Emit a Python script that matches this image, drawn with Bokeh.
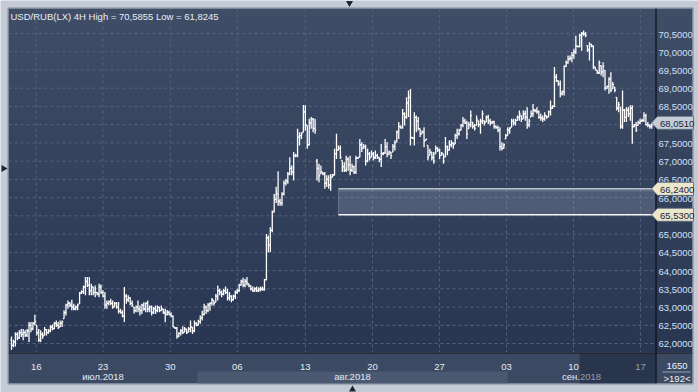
from math import pi
from bokeh.plotting import figure
from bokeh.models import Range1d
from bokeh.core.properties import value
from bokeh.embed import file_html
from bokeh.resources import INLINE

# ---------------- data (USD/RUB, 4H bars, mid-July .. mid-Sept 2018) ----------------
HIGH = [
    62.19, 62.10, 62.31, 62.31, 62.36, 62.40, 62.40, 62.36, 62.40, 62.59,
    62.59, 62.59, 62.79, 62.50, 62.40, 62.36, 62.31, 62.45, 62.40, 62.40,
    62.50, 62.52, 62.59, 62.63, 62.59, 62.63, 62.63, 62.91, 63.09, 63.18,
    63.14, 63.20, 63.09, 63.04, 63.09, 63.41, 63.46, 63.59, 63.82, 63.82,
    63.82, 63.64, 63.55, 63.59, 63.41, 63.64, 63.62, 63.46, 63.41, 63.18,
    63.18, 63.23, 63.18, 63.14, 63.14, 63.14, 62.95, 62.91, 63.55, 63.36,
    63.32, 63.27, 63.18, 63.00,
    63.04, 63.18, 63.04, 63.09, 63.13, 63.13, 63.18, 63.04, 63.04, 63.00,
    63.04, 63.04, 63.01, 63.04, 62.95, 62.95, 62.92, 62.90, 62.86, 62.77,
    62.45, 62.45, 62.31, 62.40, 62.47, 62.45, 62.40, 62.45, 62.63, 62.45,
    62.63, 62.58, 62.65, 62.77, 62.90, 63.09, 63.04, 63.11, 63.13, 63.25,
    63.18, 63.36, 63.59, 63.50, 63.45, 63.50, 63.56, 63.50, 63.41, 63.32,
    63.34, 63.45, 63.50, 63.64, 63.75, 63.80, 63.77, 63.82, 63.64, 63.59,
    63.56, 63.54, 63.56, 63.54, 63.56, 63.56, 63.77, 65.00, 64.96, 65.19,
    65.65, 66.10, 66.30,
    66.72, 65.97, 66.15, 66.47, 66.51, 66.70, 67.11, 66.88, 67.25, 67.20,
    67.89, 67.79, 67.79, 68.54, 68.53, 67.98, 68.16, 68.21, 68.18, 68.16,
    67.06, 66.93, 66.88, 66.70, 66.70, 66.61, 66.61, 66.65, 66.65, 67.34,
    67.75, 67.43, 67.43, 67.02, 66.97, 67.15, 67.11, 67.15, 66.93, 66.88,
    67.15, 67.11, 67.61, 67.52, 67.47, 67.45, 67.34, 67.25, 67.29, 67.25,
    67.29, 67.20, 67.11,
    67.47, 67.25, 67.61, 67.52, 67.29, 67.25, 67.47, 67.57, 67.84, 68.07,
    67.98, 68.43, 68.34, 68.75, 68.94, 68.98, 67.66, 68.34, 68.25, 68.21,
    67.89, 67.84, 67.93, 67.61, 67.43, 67.34, 67.25, 67.25, 67.43, 67.38,
    67.34, 67.25, 67.20, 67.66, 67.43, 67.57, 67.57, 67.52, 67.75, 67.89,
    67.89, 68.02, 68.21, 68.16, 68.11, 68.07, 68.39, 68.07, 68.02, 68.25,
    68.11, 68.16, 68.39, 68.11, 68.25, 68.27, 68.16, 68.11, 68.11, 67.98,
    67.98,
    67.93, 67.52, 67.49, 67.75, 67.93, 67.93, 68.16, 68.16, 68.16, 68.25,
    68.39, 68.25, 68.39, 68.39, 68.48, 68.16, 68.39, 68.57, 68.43, 68.48,
    68.39, 68.30, 68.25, 68.34, 68.25, 68.39, 68.66, 68.53, 69.58, 69.39,
    69.21, 69.21, 68.94, 69.62, 69.76, 69.90, 69.90, 69.99, 70.08, 70.44,
    70.17, 70.49, 70.54, 70.5855, 70.54, 70.17, 70.26, 70.22, 70.17, 69.58,
    69.49,
    69.76, 69.62, 69.71, 69.49, 69.07, 69.30, 69.44, 69.17, 69.03, 68.75,
    68.62, 68.48, 68.94, 68.43, 68.48, 68.48, 68.53, 68.53, 68.02, 68.07,
    68.11, 68.16, 68.16, 68.34, 68.30, 68.07, 68.02, 68.04, 68.08,
]
LOW = [
    61.8245, 61.90, 61.92, 62.09, 62.13, 62.18, 62.09, 62.18, 62.18, 62.04,
    62.31, 62.36, 62.50, 62.22, 62.04, 62.04, 62.13, 62.22, 62.22, 62.27,
    62.31, 62.36, 62.40, 62.45, 62.40, 62.45, 62.45, 62.68, 62.77, 62.95,
    63.00, 62.91, 62.91, 62.91, 62.91, 63.09, 63.36, 63.36, 63.32, 63.55,
    63.32, 63.32, 63.32, 63.27, 63.32, 63.27, 63.36, 63.27, 62.95, 62.95,
    63.05, 63.05, 62.95, 63.00, 62.95, 62.82, 62.82, 62.72, 62.59, 63.09,
    63.14, 63.05, 63.00, 62.82,
    62.86, 62.86, 62.77, 62.81, 62.90, 62.86, 62.86, 62.86, 62.77, 62.81,
    62.81, 62.86, 62.86, 62.90, 62.81, 62.58, 62.77, 62.77, 62.72, 62.45,
    62.40, 62.13, 62.17, 62.22, 62.26, 62.31, 62.26, 62.31, 62.31, 62.26,
    62.31, 62.47, 62.49, 62.54, 62.63, 62.77, 62.81, 62.86, 62.90, 63.04,
    63.04, 63.13, 63.18, 63.32, 63.27, 63.32, 63.36, 63.18, 63.18, 63.13,
    63.18, 63.22, 63.36, 63.41, 63.59, 63.54, 63.54, 63.59, 63.54, 63.45,
    63.41, 63.41, 63.41, 63.41, 63.43, 63.45, 63.45, 63.73, 64.50, 64.50,
    65.05, 65.60, 65.85,
    65.78, 65.78, 65.78, 66.06, 66.33, 66.38, 66.61, 66.61, 66.47, 67.11,
    67.11, 67.43, 67.61, 67.79, 67.84, 67.34, 67.43, 67.89, 67.79, 67.75,
    66.47, 66.42, 66.65, 66.61, 66.24, 66.29, 66.24, 66.19, 66.56, 66.61,
    67.06, 67.29, 67.06, 66.70, 66.70, 66.70, 66.74, 66.61, 66.70, 66.65,
    66.65, 67.06, 67.11, 67.25, 67.34, 66.88, 66.97, 67.02, 67.11, 67.02,
    67.06, 67.06, 66.97,
    66.84, 67.16, 67.20, 67.11, 67.16, 67.06, 67.25, 67.29, 67.52, 67.61,
    67.89, 67.89, 67.98, 68.16, 68.21, 67.43, 67.61, 67.43, 67.79, 67.84,
    67.66, 67.75, 67.38, 67.57, 67.02, 67.16, 67.02, 66.93, 67.20, 67.25,
    67.06, 67.16, 66.93, 67.11, 67.16, 67.29, 67.38, 67.34, 67.47, 67.61,
    67.70, 67.84, 67.93, 68.02, 67.61, 67.89, 67.93, 67.89, 67.84, 67.98,
    67.93, 67.75, 68.02, 67.98, 68.07, 68.02, 67.98, 68.02, 67.89, 67.89,
    67.79,
    67.29, 67.29, 67.34, 67.61, 67.70, 67.75, 67.93, 67.98, 67.98, 68.11,
    68.11, 68.07, 68.16, 68.11, 67.89, 67.93, 68.21, 68.21, 68.34, 68.30,
    68.16, 68.11, 68.07, 68.11, 68.16, 68.21, 68.25, 68.43, 68.48, 69.17,
    69.07, 68.75, 68.80, 68.80, 69.58, 69.67, 69.76, 69.71, 69.81, 69.94,
    70.12, 70.12, 70.03, 70.44, 70.40, 69.99, 69.76, 70.12, 69.53, 69.49,
    69.39,
    69.39, 69.35, 69.30, 68.94, 68.98, 68.85, 68.89, 68.98, 68.89, 68.39,
    68.34, 67.89, 67.89, 68.07, 68.07, 68.21, 68.11, 67.48, 67.93, 67.80,
    67.98, 68.02, 68.07, 68.07, 67.98, 67.93, 67.89, 67.89, 67.98,
]
OPEN = [
    62.10, 61.95, 62.05, 62.25, 62.15, 62.30, 62.25, 62.30, 62.22, 62.35,
    62.50, 62.40, 62.55, 62.50, 62.30, 62.10, 62.25, 62.22, 62.38, 62.30,
    62.35, 62.45, 62.40, 62.55, 62.50, 62.45, 62.55, 62.68, 62.85, 63.05,
    63.10, 63.05, 63.00, 62.95, 63.00, 63.09, 63.38, 63.42, 63.55, 63.70,
    63.60, 63.45, 63.55, 63.40, 63.40, 63.35, 63.55, 63.40, 63.30, 63.05,
    63.10, 63.15, 63.10, 63.00, 63.10, 63.00, 62.88, 62.85, 62.75, 63.30,
    63.20, 63.25, 63.10, 63.00,
    62.90, 63.00, 62.95, 62.90, 63.05, 62.95, 63.10, 62.95, 63.00, 62.85,
    62.95, 62.90, 63.00, 62.90, 62.95, 62.85, 62.80, 62.85, 62.80, 62.75,
    62.45, 62.42, 62.20, 62.28, 62.35, 62.31, 62.40, 62.31, 62.40, 62.45,
    62.35, 62.55, 62.50, 62.60, 62.70, 62.80, 63.00, 62.90, 63.05, 63.10,
    63.18, 63.13, 63.30, 63.45, 63.40, 63.35, 63.45, 63.40, 63.25, 63.30,
    63.20, 63.30, 63.40, 63.45, 63.60, 63.70, 63.60, 63.70, 63.64, 63.58,
    63.50, 63.45, 63.50, 63.45, 63.48, 63.50, 63.48, 63.75, 64.90, 64.70,
    65.10, 65.60, 65.95,
    66.10, 65.90, 65.85, 66.10, 66.40, 66.45, 66.65, 66.80, 66.70, 67.15,
    67.15, 67.65, 67.70, 67.79, 68.35, 67.98, 67.45, 68.05, 68.15, 67.90,
    67.00, 66.80, 66.65, 66.70, 66.65, 66.40, 66.50, 66.35, 66.56, 66.62,
    67.20, 67.30, 67.35, 67.02, 66.85, 66.75, 67.05, 66.90, 66.75, 66.85,
    66.70, 67.08, 67.11, 67.45, 67.35, 67.40, 67.00, 67.20, 67.11, 67.20,
    67.10, 67.15, 67.10,
    67.05, 67.20, 67.22, 67.40, 67.20, 67.25, 67.25, 67.40, 67.52, 67.80,
    67.95, 67.92, 68.30, 68.20, 68.60, 68.75, 67.65, 67.63, 68.20, 68.10,
    67.89, 67.75, 67.80, 67.57, 67.43, 67.16, 67.25, 67.10, 67.20, 67.35,
    67.30, 67.16, 67.20, 67.11, 67.40, 67.30, 67.45, 67.50, 67.47, 67.70,
    67.75, 67.85, 67.98, 68.10, 68.05, 67.89, 68.00, 68.07, 67.95, 67.98,
    68.11, 68.00, 68.10, 68.11, 68.07, 68.20, 68.10, 68.05, 68.08, 67.95,
    67.92,
    67.85, 67.40, 67.35, 67.61, 67.70, 67.85, 67.93, 68.10, 68.05, 68.12,
    68.20, 68.25, 68.16, 68.30, 68.20, 68.00, 68.21, 68.30, 68.40, 68.38,
    68.35, 68.20, 68.18, 68.15, 68.25, 68.21, 68.35, 68.45, 68.50, 69.30,
    69.20, 69.12, 68.85, 68.90, 69.60, 69.70, 69.80, 69.82, 69.90, 70.00,
    70.15, 70.14, 70.45, 70.50, 70.48, 70.17, 70.05, 70.20, 70.15, 69.58,
    69.49,
    69.42, 69.62, 69.45, 69.49, 69.00, 69.05, 69.25, 68.98, 69.03, 68.75,
    68.45, 68.48, 67.95, 68.40, 68.20, 68.40, 68.30, 68.45, 67.95, 68.00,
    67.98, 68.05, 68.10, 68.12, 68.25, 68.00, 67.98, 67.95, 68.00,
]
CLOSE = [
    61.95, 62.05, 62.25, 62.15, 62.30, 62.25, 62.30, 62.22, 62.35, 62.50,
    62.40, 62.55, 62.60, 62.30, 62.10, 62.25, 62.20, 62.38, 62.30, 62.35,
    62.45, 62.40, 62.55, 62.50, 62.45, 62.55, 62.60, 62.85, 63.05, 63.10,
    63.05, 63.00, 62.95, 63.00, 63.05, 63.38, 63.42, 63.55, 63.70, 63.60,
    63.45, 63.55, 63.40, 63.50, 63.35, 63.55, 63.40, 63.30, 63.05, 63.10,
    63.15, 63.10, 63.00, 63.10, 63.00, 62.88, 62.85, 62.75, 63.30, 63.20,
    63.25, 63.10, 63.05, 62.90,
    63.00, 62.95, 62.90, 63.05, 62.95, 63.10, 62.95, 63.00, 62.85, 62.95,
    62.90, 63.00, 62.90, 62.95, 62.85, 62.80, 62.85, 62.80, 62.75, 62.45,
    62.42, 62.20, 62.28, 62.35, 62.30, 62.40, 62.30, 62.40, 62.45, 62.35,
    62.55, 62.50, 62.60, 62.70, 62.80, 63.00, 62.90, 63.05, 63.10, 63.20,
    63.10, 63.30, 63.45, 63.40, 63.35, 63.45, 63.40, 63.25, 63.30, 63.20,
    63.30, 63.40, 63.45, 63.60, 63.70, 63.60, 63.70, 63.65, 63.58, 63.50,
    63.45, 63.50, 63.45, 63.48, 63.50, 63.48, 63.75, 64.90, 64.70, 65.10,
    65.60, 65.95, 66.10,
    65.90, 65.85, 66.10, 66.40, 66.45, 66.65, 66.80, 66.70, 67.15, 67.15,
    67.65, 67.70, 67.75, 68.35, 68.00, 67.45, 68.05, 68.15, 67.90, 67.85,
    66.80, 66.60, 66.70, 66.65, 66.40, 66.50, 66.35, 66.55, 66.62, 67.20,
    67.30, 67.35, 67.10, 66.85, 66.75, 67.05, 66.90, 66.75, 66.85, 66.70,
    67.08, 67.10, 67.45, 67.35, 67.40, 67.00, 67.20, 67.10, 67.20, 67.10,
    67.15, 67.10, 67.05,
    67.20, 67.22, 67.40, 67.20, 67.25, 67.15, 67.40, 67.50, 67.80, 67.95,
    67.92, 68.30, 68.20, 68.60, 68.75, 67.65, 67.63, 68.20, 68.10, 67.90,
    67.75, 67.80, 67.55, 67.60, 67.10, 67.25, 67.10, 67.00, 67.35, 67.30,
    67.15, 67.22, 67.00, 67.40, 67.30, 67.45, 67.50, 67.45, 67.70, 67.75,
    67.85, 67.98, 68.10, 68.05, 67.75, 68.00, 68.25, 67.95, 67.90, 68.15,
    68.00, 68.10, 68.30, 68.05, 68.20, 68.10, 68.05, 68.08, 67.95, 67.92,
    67.85,
    67.40, 67.35, 67.45, 67.70, 67.85, 67.90, 68.10, 68.05, 68.12, 68.20,
    68.30, 68.15, 68.30, 68.20, 68.00, 68.10, 68.30, 68.40, 68.38, 68.35,
    68.20, 68.18, 68.15, 68.25, 68.20, 68.35, 68.45, 68.50, 69.30, 69.20,
    69.12, 68.85, 68.90, 69.60, 69.70, 69.80, 69.82, 69.90, 70.00, 70.15,
    70.14, 70.45, 70.50, 70.48, 70.45, 70.05, 70.20, 70.15, 69.60, 69.50,
    69.42,
    69.70, 69.45, 69.60, 69.00, 69.05, 69.25, 68.95, 69.10, 68.95, 68.45,
    68.55, 67.95, 68.40, 68.20, 68.40, 68.30, 68.45, 67.95, 68.00, 67.85,
    68.05, 68.10, 68.12, 68.25, 68.00, 67.98, 67.95, 68.00, 68.051,
]

SYMBOL = "USD/RUB(LX) 4H"
DAY_LABELS = ["16", "23", "30", "06", "13", "20", "27", "03", "10", "17"]
DAY_POS = [12.7, 47.0, 81.6, 116.0, 151.0, 185.5, 219.9, 254.4, 288.8, 323.2]   # bar index of each Monday
MONTH_LABELS = ["июл.2018", "авг.2018", "сен.2018"]
MONTH_BREAKS = [95.6, 254.9]          # bar index where Aug and Sep begin
PRICE_TICKS = [62.0 + 0.5 * k for k in range(18)]
BAND_START = 168                      # bar index where the marked zone begins
BAND_HIGH, BAND_LOW = 66.24, 65.53
SHADE_START = 292
CORNER_TOP, CORNER_BOTTOM = "1650", ">192<"

# ---------------- geometry (pixel anchors of the layout) ----------------
W, H = 698, 392
X0_PX, DX_PX = 11.0, 1.946
Y0_PRICE, Y0_PX, PX_PER = 70.5, 33.0, 36.47


def X(px):
    return (px - X0_PX) / DX_PX


def Y(py):
    return Y0_PRICE - (py - Y0_PX) / PX_PER


def PY(price):
    return Y0_PX + (Y0_PRICE - price) * PX_PER


def fmt(v):
    return f"{v:.4f}".replace(".", ",")


FONT = value("Liberation Sans")
FS = value("9.5px")

OUTER = "#c3cbd7"
p = figure(width=W, height=H, x_range=Range1d(X(0), X(W)), y_range=Range1d(Y(H), Y(0)),
           output_backend="svg", toolbar_location=None, x_axis_location=None,
           y_axis_location=None, min_border=0, outline_line_color=None,
           background_fill_color=OUTER, border_fill_color=OUTER)
p.grid.visible = False

# background gradient of the chart and price panel
N = 43
c_top, c_bot = (64, 77, 103), (41, 54, 82)
tops, bots, cols = [], [], []
for k in range(N):
    py0 = 8 + k * 344 / N
    py1 = py0 + 344 / N + 0.7
    t = (k + 0.5) / N
    r, g, b = (round(c_top[i] + (c_bot[i] - c_top[i]) * t) for i in range(3))
    tops.append(Y(py0)); bots.append(Y(min(py1, 352))); cols.append(f"#{r:02x}{g:02x}{b:02x}")
p.quad(left=X(8), right=X(692), top=tops, bottom=bots, fill_color=cols, line_color=None)

# bottom time panel
p.quad(left=X(8), right=X(692), top=Y(352), bottom=Y(383), fill_color="#3c4963", line_color=None)
p.quad(left=MONTH_BREAKS[0], right=MONTH_BREAKS[1], top=Y(371), bottom=Y(383),
       fill_color="#4b5871", line_color=None)

# dashed grid
GRID = "#56637d"
p.segment(x0=X(8), x1=X(655), y0=PRICE_TICKS, y1=PRICE_TICKS, line_color=GRID,
          line_dash="3 3", line_width=1)
p.segment(x0=DAY_POS, x1=DAY_POS, y0=Y(8), y1=Y(352), line_color=GRID,
          line_dash="3 3", line_width=1)

# marked zone (semi-transparent, grid shows through)
p.quad(left=BAND_START, right=X(655), top=BAND_HIGH, bottom=BAND_LOW,
       fill_color="#c4cce0", fill_alpha=0.2, line_color=None)
p.quad(left=BAND_START, right=X(655), top=BAND_HIGH, bottom=Y(PY(BAND_HIGH) + 3),
       fill_color="#d0d6e4", fill_alpha=0.12, line_color=None)
p.segment(x0=BAND_START, x1=BAND_START, y0=BAND_LOW, y1=BAND_HIGH, line_color="#66728c", line_width=1)
p.segment(x0=BAND_START, x1=X(655), y0=BAND_HIGH, y1=BAND_HIGH, line_color="#b9bfca", line_width=1.5)
p.segment(x0=BAND_START, x1=X(655), y0=BAND_LOW, y1=BAND_LOW, line_color="#f2f4f8", line_width=1.3)

# OHLC bars
xs = list(range(len(HIGH)))
BAR = "#ffffff"
p.segment(x0=xs, x1=xs, y0=LOW, y1=HIGH, line_color=BAR, line_width=1.3)
p.segment(x0=[x - 0.6 for x in xs], x1=xs, y0=OPEN, y1=OPEN, line_color=BAR, line_width=1.3)
p.segment(x0=xs, x1=[x + 0.6 for x in xs], y0=CLOSE, y1=CLOSE, line_color=BAR, line_width=1.3)

# separators and frame
p.segment(x0=[X(655.5), X(8)], x1=[X(655.5), X(692)], y0=[Y(8), Y(352.5)], y1=[Y(383), Y(352.5)],
          line_color="#0c0f16", line_width=1.2)
p.line(x=[X(7.5), X(692.5), X(692.5), X(7.5), X(7.5)],
       y=[Y(7.5), Y(7.5), Y(383.5), Y(383.5), Y(7.5)], line_color="#7d8796", line_width=1)

# title
title = f"{SYMBOL} High = {fmt(max(HIGH))} Low = {fmt(min(LOW))}"
p.text(x=[X(10)], y=[Y(15.5)], text=[title], text_font=FONT, text_font_size=FS,
       text_color="#e8edf5", text_align="left", text_baseline="middle")

# price scale labels
p.text(x=[X(658)] * len(PRICE_TICKS), y=PRICE_TICKS, text=[fmt(v) for v in PRICE_TICKS],
       text_font=FONT, text_font_size=FS, text_color="#cfe0fa", text_align="left",
       text_baseline="middle", y_offset=1)

# price tags (last close and zone bounds)
TAGS = [(CLOSE[-1], "#c5cdd9"), (BAND_HIGH, "#ebe7cc"), (BAND_LOW, "#ebe7cc")]
px_list, py_list = [], []
for price, _ in TAGS:
    c = PY(price)
    px_list.append([X(651), X(657), X(693), X(693), X(657)])
    py_list.append([Y(c), Y(c - 6.5), Y(c - 6.5), Y(c + 6.5), Y(c + 6.5)])
p.patches(xs=px_list, ys=py_list, fill_color=[c for _, c in TAGS], line_color="#5d6678", line_width=0.8)
p.text(x=[X(659.5)] * 3, y=[t[0] for t in TAGS], text=[fmt(t[0]) for t in TAGS], text_font=FONT,
       text_font_size=FS, text_color="#1a2235", text_align="left", text_baseline="middle", y_offset=1)

# time axis labels
p.text(x=DAY_POS, y=[Y(366)] * len(DAY_POS), text=DAY_LABELS, text_font=FONT, text_font_size=FS,
       text_color="#e4eaf2", text_align="center", text_baseline="middle")
bounds = [X(8)] + MONTH_BREAKS + [X(655)]
mx = [(bounds[i] + bounds[i + 1]) / 2 for i in range(len(MONTH_LABELS))]
p.text(x=mx, y=[Y(376)] * len(mx), text=MONTH_LABELS, text_font=FONT, text_font_size=FS,
       text_color="#e4eaf2", text_align="center", text_baseline="middle")

# shaded tail of the time panel
p.quad(left=SHADE_START, right=X(655), top=Y(353), bottom=Y(383), fill_color="#0b1428",
       fill_alpha=0.38, line_color=None)

# corner box
p.text(x=[X(676.5), X(676.5)], y=[Y(365), Y(378)], text=[CORNER_TOP, CORNER_BOTTOM], text_font=FONT,
       text_font_size=FS, text_color="#eef2f8", text_align="center", text_baseline="middle")
p.segment(x0=X(662), x1=X(690), y0=Y(371.5), y1=Y(371.5), line_color="#9aa3b3", line_width=1)

# navigation arrows in the outer margin
p.scatter(x=[X(349), X(352), X(3)], y=[Y(2.5), Y(389), Y(168)], marker="triangle", size=7,
          angle=[pi, 0, -pi / 2], fill_color="#1c2433", line_color=None)

open("out.html", "w").write(file_html(p, INLINE))
